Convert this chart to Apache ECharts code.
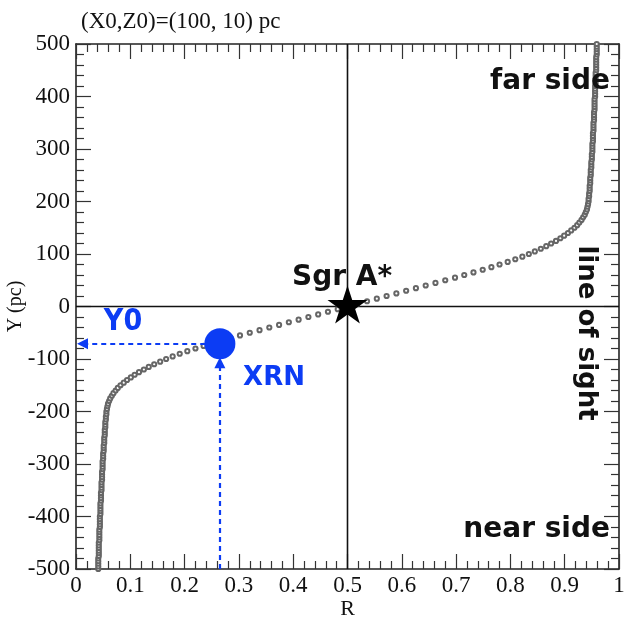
<!DOCTYPE html>
<html>
<head>
<meta charset="utf-8">
<script src="https://cdn.jsdelivr.net/npm/echarts@6/dist/echarts.min.js"></script>
<style>
html,body{margin:0;padding:0;background:#fff;}
#main{width:636px;height:619px;}
</style>
</head>
<body>
<div id="main"></div>
<script>
// ---- data ----
const curveY = [
 -500,-495,-490,-485,-480,-475,-470,-465,-460,-455,-450,-445,-440,-435,-430,-425,-420,-415,-410,-405,
 -400,-395,-390,-385,-380,-375,-370,-365,-360,-355,-350,-345,-340,-335,-330,-325,-320,-315,-310,-305,
 -300,-295,-290,-285,-280,-275,-270,-265,-260,-255,-250,-245,-240,-235,-230,-225,-220,-215,-210,-205,
 -200,-195,-190,-185,-180,-175,-170,-165,-160,-155,-150,-145,-140,-135,-130,-125,-120,-115,-110,-105,
 -100,-95,-90,-85,-80,-75,-70,-65,-60,-55,-50,-45,-40,-35,-30,-25,-20,-15,-10,-5,
 0,5,10,15,20,25,30,35,40,45,50,55,60,65,70,75,80,85,90,95,
 100,105,110,115,120,125,130,135,140,145,150,155,160,165,170,175,180,185,190,195,
 200,205,210,215,220,225,230,235,240,245,250,255,260,265,270,275,280,285,290,295,
 300,305,310,315,320,325,330,335,340,345,350,355,360,365,370,375,380,385,390,395,
 400,405,410,415,420,425,430,435,440,445,450,455,460,465,470,475,480,485,490,495,
 500
];
const curveR = [
 0.041,0.041,0.041,0.041,0.041,0.042,0.042,0.042,0.042,0.042,0.042,0.043,0.043,0.043,0.043,0.043,0.044,0.044,0.044,0.044,
 0.044,0.045,0.045,0.045,0.045,0.045,0.046,0.046,0.046,0.046,0.047,0.047,0.047,0.047,0.048,0.048,0.048,0.048,0.049,0.049,
 0.049,0.049,0.050,0.050,0.050,0.051,0.051,0.051,0.052,0.052,0.052,0.053,0.053,0.053,0.054,0.054,0.054,0.055,0.055,0.056,
 0.056,0.057,0.058,0.059,0.061,0.063,0.066,0.069,0.073,0.077,0.082,0.088,0.094,0.101,0.108,0.116,0.125,0.134,0.144,0.155,
 0.166,0.178,0.191,0.205,0.220,0.235,0.251,0.268,0.285,0.302,0.320,0.338,0.356,0.374,0.392,0.410,0.428,0.446,0.464,0.482,
 0.500,0.518,0.536,0.554,0.572,0.590,0.608,0.626,0.644,0.662,0.680,0.698,0.715,0.732,0.749,0.765,0.780,0.795,0.809,0.822,
 0.834,0.845,0.856,0.866,0.875,0.884,0.892,0.899,0.906,0.912,0.918,0.923,0.927,0.931,0.934,0.937,0.939,0.941,0.942,0.943,
 0.944,0.944,0.945,0.945,0.946,0.946,0.946,0.947,0.947,0.947,0.948,0.948,0.948,0.949,0.949,0.949,0.950,0.950,0.950,0.951,
 0.951,0.951,0.951,0.952,0.952,0.952,0.952,0.953,0.953,0.953,0.953,0.954,0.954,0.954,0.954,0.955,0.955,0.955,0.955,0.955,
 0.956,0.956,0.956,0.956,0.956,0.957,0.957,0.957,0.957,0.957,0.958,0.958,0.958,0.958,0.958,0.958,0.959,0.959,0.959,0.959,
 0.959
];
const sgrA = [0.5, 0];          // Sgr A* position (R, Y)
const xrnPoint = [0.265, -71];  // blue marker (XRN, Y0)
const hArrow = [[0.238, -71], [0.012, -71]];
const vArrow = [[0.265, -500], [0.265, -107]];
const rTickLabels = ['0','0.1','0.2','0.3','0.4','0.5','0.6','0.7','0.8','0.9','1'];
const yTickLabels = ['-500','-400','-300','-200','-100','0','100','200','300','400','500'];
const titleText = '(X0,Z0)=(100, 10) pc';

// ---- chart ----
const BLUE = '#0c3cf4';
const chart = echarts.init(document.getElementById('main'));
const serif = "'Liberation Serif','Times New Roman',serif";
const sans = "'DejaVu Sans',sans-serif";
const starPath = 'path://M50 0 L61.23 34.55 L97.55 34.55 L68.16 55.9 L79.39 90.45 L50 69.1 L20.61 90.45 L31.84 55.9 L2.45 34.55 L38.77 34.55 Z';

const curveData = curveY.map((y, i) => [curveR[i], y]);

const axisCommon = {
  type: 'value',
  axisLine: { show: true, onZero: false, lineStyle: { color: '#222', width: 1.6 } },
  axisTick: { show: true, inside: true, length: 15, lineStyle: { color: '#333', width: 1.2 } },
  minorTick: { show: true, splitNumber: 5, length: 8, lineStyle: { color: '#333', width: 1.2 } },
  splitLine: { show: false },
  minorSplitLine: { show: false }
};

const option = {
  animation: false,
  backgroundColor: '#fff',
  title: {
    text: titleText, left: 76, top: 5,
    textStyle: { fontFamily: serif, fontSize: 23, fontWeight: 'normal', color: '#111' }
  },
  grid: { left: 76, right: 17, top: 44, bottom: 50, containLabel: false, outerBoundsMode: 'none' },
  xAxis: [
    Object.assign({}, axisCommon, {
      position: 'bottom', min: 0, max: 1, interval: 0.1,
      name: 'R', nameLocation: 'middle', nameGap: 29, nameMoveOverlap: false,
      nameTextStyle: { fontFamily: serif, fontSize: 22, color: '#111' },
      axisLabel: { show: true, margin: 5, fontFamily: serif, fontSize: 23, color: '#111',
        formatter: v => rTickLabels[Math.round(v * 10)] }
    }),
    Object.assign({}, axisCommon, {
      position: 'top', min: 0, max: 1, interval: 0.1, axisLabel: { show: false }
    })
  ],
  yAxis: [
    Object.assign({}, axisCommon, {
      position: 'left', min: -500, max: 500, interval: 100,
      name: 'Y (pc)', nameLocation: 'middle', nameGap: 50, nameRotate: 90, nameMoveOverlap: false,
      nameTextStyle: { fontFamily: serif, fontSize: 20, color: '#111' },
      axisLabel: { show: true, margin: 6, fontFamily: serif, fontSize: 23, color: '#111',
        formatter: v => yTickLabels[Math.round((v + 500) / 100)] }
    }),
    Object.assign({}, axisCommon, {
      position: 'right', min: -500, max: 500, interval: 100, axisLabel: { show: false }
    })
  ],
  series: [
    {
      type: 'line', xAxisIndex: 0, yAxisIndex: 0, silent: true,
      data: [[sgrA[0], -500], [sgrA[0], 500]], symbol: 'none',
      lineStyle: { color: '#111', width: 1.6 }, z: 1
    },
    {
      type: 'line', xAxisIndex: 0, yAxisIndex: 0, silent: true,
      data: [[0, sgrA[1]], [1, sgrA[1]]], symbol: 'none',
      lineStyle: { color: '#111', width: 1.6 }, z: 1
    },
    {
      type: 'scatter', xAxisIndex: 0, yAxisIndex: 0, silent: true,
      data: curveData, symbol: 'emptyCircle', symbolSize: 4.2,
      itemStyle: { color: '#666', borderColor: '#555', borderWidth: 1, opacity: 1 }, z: 2
    },
    {
      type: 'scatter', xAxisIndex: 0, yAxisIndex: 0, silent: true,
      data: [xrnPoint], symbol: 'circle', symbolSize: 31,
      itemStyle: { color: BLUE, opacity: 1 }, z: 4,
      markLine: {
        silent: true, animation: false,
        symbol: ['none', 'triangle'], symbolSize: 11,
        label: { show: false },
        lineStyle: { color: BLUE, width: 2.2, type: [5, 4], opacity: 1 },
        emphasis: { disabled: true },
        data: [
          [{ coord: hArrow[0] }, { coord: hArrow[1] }],
          [{ coord: vArrow[0] }, { coord: vArrow[1] }]
        ]
      }
    },
    {
      type: 'scatter', xAxisIndex: 0, yAxisIndex: 0, silent: true,
      data: [sgrA], symbol: starPath, symbolSize: [40, 38], symbolOffset: [0, -2],
      itemStyle: { color: '#000', opacity: 1 }, z: 5
    }
  ],
  graphic: [
    { type: 'text', x: 610, y: 82, z: 10, style: { text: 'far side', font: 'bold 28px ' + sans, fill: '#111', align: 'right', verticalAlign: 'middle' } },
    { type: 'text', x: 610, y: 530, z: 10, style: { text: 'near side', font: 'bold 28px ' + sans, fill: '#111', align: 'right', verticalAlign: 'middle' } },
    { type: 'text', x: 342, y: 278, z: 10, style: { text: 'Sgr A*', font: 'bold 28px ' + sans, fill: '#111', align: 'center', verticalAlign: 'middle' } },
    { type: 'text', x: 586, y: 333, rotation: -Math.PI / 2, z: 10, style: { text: 'line of sight', font: 'bold 26px ' + sans, fill: '#111', align: 'center', verticalAlign: 'middle' } },
    { type: 'text', x: 123, y: 322, z: 10, style: { text: 'Y0', font: "bold 30px 'Liberation Sans Narrow','DejaVu Sans Condensed',sans-serif", fill: BLUE, align: 'center', verticalAlign: 'middle' } },
    { type: 'text', x: 274, y: 378, z: 10, style: { text: 'XRN', font: 'bold 26px ' + sans, fill: BLUE, align: 'center', verticalAlign: 'middle' } }
  ]
};
chart.setOption(option);
</script>
</body>
</html>
